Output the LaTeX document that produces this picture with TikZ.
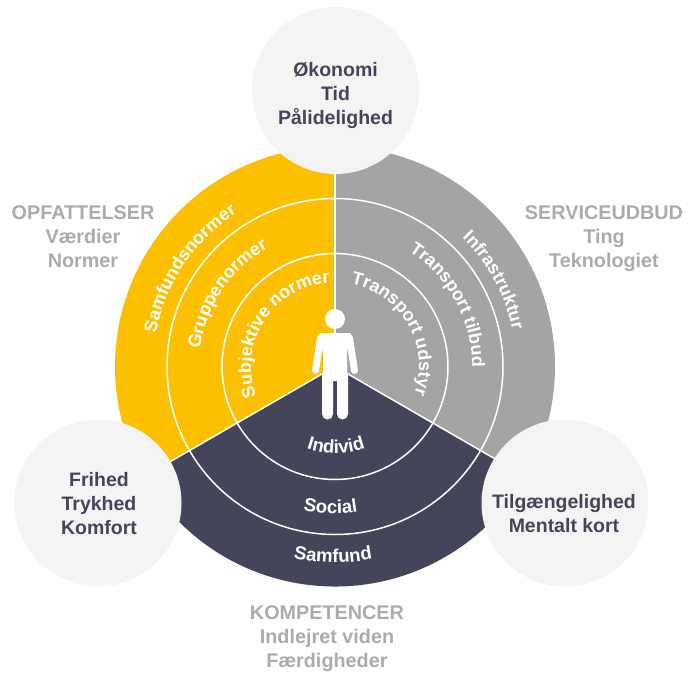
\documentclass[tikz,border=0pt]{standalone}
\usepackage{fontspec}
\setmainfont{Liberation Sans}
\usetikzlibrary{decorations.text}
\definecolor{cyellow}{HTML}{FDC000}
\definecolor{cgray}{HTML}{A5A3A4}
\definecolor{cnavy}{HTML}{44455B}
\definecolor{cdisc}{HTML}{F4F4F5}
\definecolor{clabel}{HTML}{ABABAB}
\newcommand{\arctxt}{\fontsize{18}{20}\selectfont\bfseries\color{white}}
\newcommand{\arctxtb}{\fontsize{18.6}{20}\selectfont\bfseries\color{white}}
\tikzset{
  x=1pt,y=1pt,
  disc/.style={circle,fill=cdisc,minimum size=167pt,inner sep=0pt},
  disctext/.style={text=cnavy,align=center,inner sep=0pt,font=\fontsize{19.5}{24}\selectfont\bfseries},
  sidelabel/.style={text=clabel,align=center,inner sep=0pt,font=\fontsize{19.8}{24}\selectfont\bfseries},
  sep/.style={draw=white,line width=1.5pt},
  person/.style={fill=white,draw=none},
  arclabel/.style={decorate,decoration={text along path,text align=center,text={|\arctxt|#1}}},
  arclabelb/.style={decorate,decoration={text along path,text align=center,text={|\arctxtb|#1}}}
}
\begin{document}
\begin{tikzpicture}
\useasboundingbox (0,0) rectangle (688,-674);
\coordinate (c) at (335,-366.5);
% sectors
\fill[cyellow] (c) -- ++(90:220) arc[start angle=90,end angle=210,radius=220pt] -- cycle;
\fill[cgray] (c) -- ++(90:220) arc[start angle=90,end angle=-30,radius=220pt] -- cycle;
\fill[cnavy] (c) -- ++(210:220) arc[start angle=210,end angle=330,radius=220pt] -- cycle;
% rings
\draw[sep] (c) circle[radius=113pt];
\draw[sep] (c) circle[radius=168pt];
\draw[sep] (c) -- ++(90:220);
\draw[sep] (c) -- ++(210:220);
\draw[sep] (c) -- ++(330:220);
% discs
\node[disc] (top) at (335.5,-90.5) {};
\node[disc] (left) at (98,-503) {};
\node[disc] (right) at (565,-503) {};
\node[disctext] (toptext) at (335.5,-96) {Økonomi\\Tid\\Pålidelighed};
\node[disctext] (lefttext) at (99,-504) {Frihed\\Trykhed\\Komfort};
\node[disctext] (righttext) at (564,-514) {Tilgængelighed\\Mentalt kort};
% person
\fill[person] (c) ++(0,47.5) circle[radius=10pt];
\fill[person,rounded corners=3pt] (318,-333) -- (352,-333) -- (347,-352) -- (347,-381) -- (323,-381) -- (323,-352) -- cycle;
\draw[white,line width=7pt,line cap=round,line join=round] (320.5,-338) -- (315.5,-370.5);
\draw[white,line width=7pt,line cap=round,line join=round] (349.5,-338) -- (354.5,-370.5);
\fill[person,rounded corners=5.5pt] (322,-370) -- (333,-370) -- (333,-419.5) -- (322,-419.5) -- cycle;
\fill[person,rounded corners=5.5pt] (337,-370) -- (348,-370) -- (348,-419.5) -- (337,-419.5) -- cycle;
\fill[person] (325,-370) rectangle (345,-379);
% arc labels: yellow
\path[arclabel=Samfundsnormer] (c) ++(191:182) arc[start angle=191,end angle=101,radius=182pt];
\path[arclabel=Gruppenormer] (c) ++(191:136) arc[start angle=191,end angle=101,radius=136pt];
\path[arclabel=Subjektive normer] (c) ++(222:84) arc[start angle=222,end angle=72,radius=84pt];
% arc labels: gray
\path[arclabel=Infrastruktur] (c) ++(60:181) arc[start angle=60,end angle=-3,radius=181pt];
\path[arclabel=Transport tilbud] (c) ++(72:137) arc[start angle=72,end angle=-15,radius=137pt];
\path[arclabel=Transport udstyr] (c) ++(105:84) arc[start angle=105,end angle=-45,radius=84pt];
% arc labels: navy
\path[arclabelb=Individ] (c) ++(245.7:87) arc[start angle=245.7,end angle=295.7,radius=87pt];
\path[arclabelb=Social] (c) ++(253.2:147) arc[start angle=253.2,end angle=283.2,radius=147pt];
\path[arclabelb=Samfund] (c) ++(254.4:196) arc[start angle=254.4,end angle=284.4,radius=196pt];
% side labels
\node[sidelabel] (opf) at (83,-237) {OPFATTELSER\\Værdier\\Normer};
\node[sidelabel] (srv) at (604,-239) {SERVICEUDBUD\\Ting\\Teknologiet};
\node[sidelabel] (kom) at (327,-639) {KOMPETENCER\\Indlejret viden\\Færdigheder};
\end{tikzpicture}
\end{document}
